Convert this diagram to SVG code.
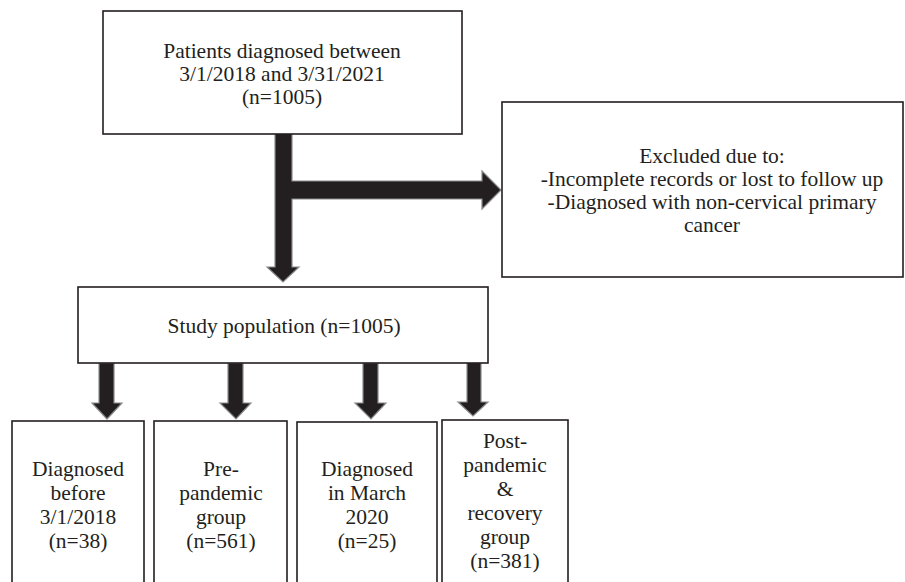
<svg xmlns="http://www.w3.org/2000/svg" width="905" height="582" viewBox="0 0 905 582">
<style>
.box{fill:#fff;stroke:#231f20;stroke-width:1.6}
.t{font-family:"Liberation Serif","Times New Roman",serif;font-size:21.5px;fill:#231f20;text-anchor:middle}
.arr{fill:#231f20;stroke:#8a8a8a;stroke-width:1.2;stroke-linejoin:miter}
</style>
<rect width="905" height="582" fill="#fff"/>
<g id="connectors">
<polygon class="arr" points="275,133 292,133 292,181 482,181 482,171 501,190 482,209 482,199 292,199 292,267 299,267 283,282 267,267 275,267"/>
<polygon class="arr" points="99,363 114,363 114,403 122,403 107,419 92,403 99,403"/>
<polygon class="arr" points="228,363 243,363 243,403 251,403 236,419 220,403 228,403"/>
<polygon class="arr" points="363,363 378,363 378,403 386,403 371,419 355,403 363,403"/>
<polygon class="arr" points="467,362 481,362 481,402 488,402 473,416 458,402 467,402"/>
</g>
<g id="patients">
<rect class="box" x="103" y="11" width="359" height="123"/>
<text class="t" x="282" y="58">Patients diagnosed between</text>
<text class="t" x="282" y="81">3/1/2018 and 3/31/2021</text>
<text class="t" x="282" y="104">(n=1005)</text>
</g>
<g id="excluded">
<rect class="box" x="502" y="102" width="401" height="175"/>
<text class="t" x="712" y="163">Excluded due to:</text>
<text class="t" x="712" y="186">-Incomplete records or lost to follow up</text>
<text class="t" x="712" y="209">-Diagnosed with non-cervical primary</text>
<text class="t" x="712" y="232">cancer</text>
</g>
<g id="study">
<rect class="box" x="78" y="287" width="410" height="76"/>
<text class="t" x="284" y="333">Study population (n=1005)</text>
</g>
<g id="before">
<rect class="box" x="12" y="421" width="132" height="175"/>
<text class="t" x="78" y="476">Diagnosed</text>
<text class="t" x="78" y="500">before</text>
<text class="t" x="78" y="524">3/1/2018</text>
<text class="t" x="78" y="548">(n=38)</text>
</g>
<g id="prepandemic">
<rect class="box" x="154" y="421" width="133" height="175"/>
<text class="t" x="221" y="476">Pre-</text>
<text class="t" x="221" y="500">pandemic</text>
<text class="t" x="221" y="524">group</text>
<text class="t" x="221" y="548">(n=561)</text>
</g>
<g id="march">
<rect class="box" x="297" y="422" width="140" height="175"/>
<text class="t" x="367" y="476">Diagnosed</text>
<text class="t" x="367" y="500">in March</text>
<text class="t" x="367" y="524">2020</text>
<text class="t" x="367" y="548">(n=25)</text>
</g>
<g id="postpandemic">
<rect class="box" x="442" y="420" width="126" height="175"/>
<text class="t" x="505" y="448">Post-</text>
<text class="t" x="505" y="472">pandemic</text>
<text class="t" x="505" y="496">&amp;</text>
<text class="t" x="505" y="520">recovery</text>
<text class="t" x="505" y="544">group</text>
<text class="t" x="505" y="568">(n=381)</text>
</g>
</svg>
